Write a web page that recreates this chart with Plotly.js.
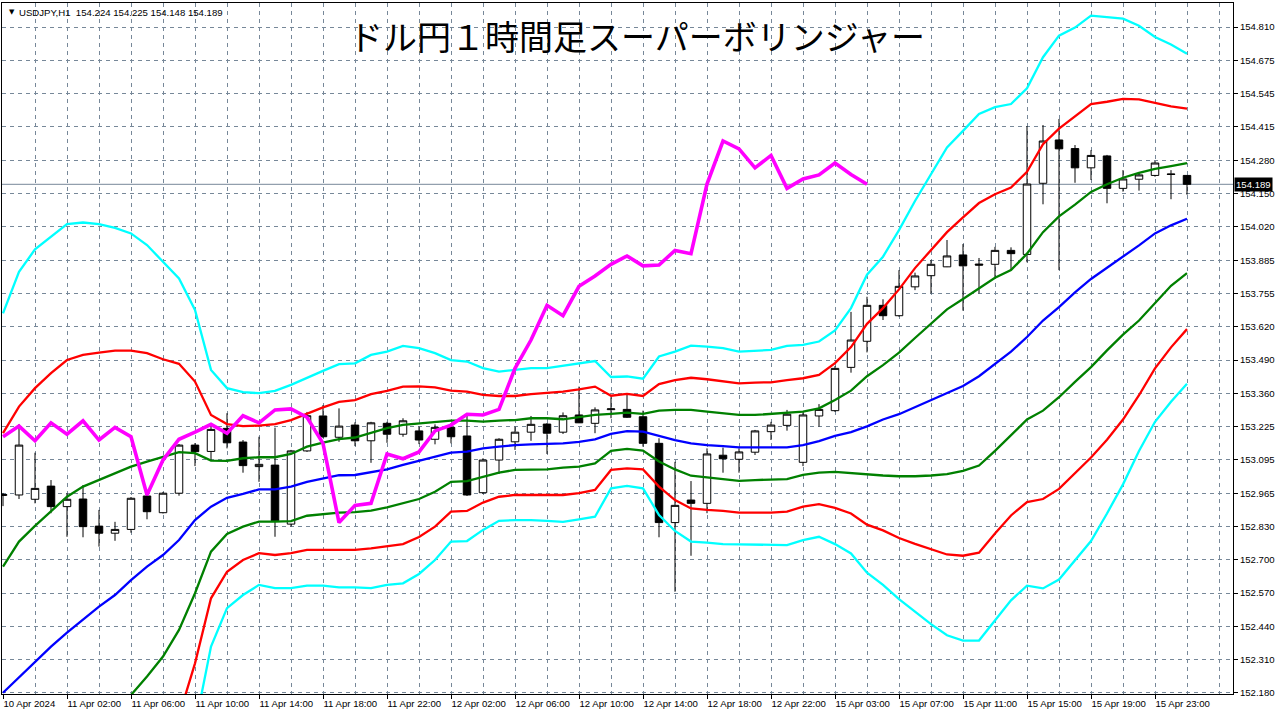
<!DOCTYPE html>
<html><head><meta charset="utf-8">
<script src="https://cdn.plot.ly/plotly-3.0.1.min.js"></script>
<style>html,body{margin:0;padding:0;background:#fff;}#chart{width:1278px;height:716px;}</style>
</head><body><div id="chart"></div>
<script>
// ---- data (USDJPY H1) ----
const openP=[152.960,152.962,152.945,152.997,152.916,152.946,152.839,152.811,152.826,152.958,
152.892,152.969,153.159,153.134,153.225,153.171,153.074,153.080,152.847,153.136,
153.274,153.190,153.238,153.176,153.245,153.202,153.215,153.182,153.229,153.195,
152.971,153.100,153.172,153.210,153.242,153.210,153.278,153.245,153.299,153.300,
153.271,153.166,152.853,152.942,152.929,153.119,153.103,153.131,153.212,153.237,
153.091,153.274,153.295,153.466,153.569,153.711,153.670,153.784,153.828,153.863,
153.910,153.874,153.873,153.928,153.912,154.193,154.364,154.330,154.254,154.301,
154.173,154.209,154.224,154.230,154.224];
const highP=[152.970,153.242,153.129,153.021,152.969,153.001,152.903,152.856,152.954,152.970,
152.974,153.163,153.167,153.245,153.285,153.179,153.192,153.228,153.140,153.290,
153.317,153.304,153.249,153.251,153.251,153.265,153.232,153.241,153.245,153.285,
153.107,153.186,153.232,153.274,153.246,153.288,153.390,153.308,153.348,153.357,
153.295,153.186,153.093,153.017,153.146,153.149,153.146,153.219,153.251,153.298,
153.288,153.321,153.471,153.685,153.745,153.735,153.850,153.840,153.890,153.969,
153.953,153.898,153.942,153.940,154.419,154.423,154.447,154.344,154.324,154.305,
154.245,154.237,154.281,154.245,154.225];
const lowP=[152.918,152.946,152.929,152.890,152.797,152.795,152.758,152.781,152.813,152.866,
152.889,152.959,153.076,153.100,153.146,153.050,153.014,152.797,152.837,153.132,
153.187,153.172,153.155,153.089,153.168,153.192,153.163,153.162,153.166,152.958,
152.966,153.045,153.140,153.176,153.124,153.203,153.246,153.206,153.265,153.266,
153.153,152.795,152.580,152.722,152.890,153.050,153.050,153.120,153.179,153.216,
153.076,153.232,153.290,153.445,153.525,153.653,153.666,153.771,153.758,153.862,
153.690,153.758,153.818,153.850,153.881,154.110,153.850,154.195,154.206,154.114,
154.160,154.164,154.219,154.130,154.148];
const closeP=[152.964,153.159,152.988,152.916,152.945,152.837,152.811,152.826,152.949,152.896,
152.969,153.159,153.133,153.221,153.168,153.078,153.083,152.860,153.136,153.275,
153.192,153.234,153.176,153.247,153.202,153.255,153.179,153.229,153.192,152.962,
153.100,153.182,153.210,153.241,153.206,153.275,153.247,153.298,153.302,153.269,
153.166,152.853,152.921,152.929,153.124,153.105,153.132,153.215,153.238,153.281,
153.278,153.300,153.462,153.574,153.711,153.670,153.786,153.827,153.873,153.906,
153.867,153.870,153.928,153.915,154.190,154.360,154.329,154.254,154.303,154.173,
154.210,154.226,154.273,154.228,154.189];

// lagging (chikou) span, magenta
const chikou=[153.192,153.234,153.176,153.247,153.202,153.255,153.179,153.229,153.192,152.962,
153.100,153.182,153.210,153.241,153.206,153.275,153.247,153.298,153.302,153.269,
153.166,152.853,152.921,152.929,153.124,153.105,153.132,153.215,153.238,153.281,
153.278,153.300,153.462,153.574,153.711,153.670,153.786,153.827,153.873,153.906,
153.867,153.870,153.928,153.915,154.190,154.360,154.329,154.254,154.303,154.173,
154.210,154.226,154.273,154.228,154.189];

const upper3=[153.679,153.843,153.932,153.982,154.032,154.038,154.032,154.017,153.995,153.949,
153.883,153.817,153.693,153.456,153.384,153.368,153.364,153.373,153.397,153.426,
153.452,153.479,153.482,153.515,153.528,153.551,153.542,153.522,153.495,153.489,
153.463,153.449,153.456,153.463,153.463,153.472,153.482,153.491,153.428,153.430,
153.421,153.509,153.528,153.552,153.548,153.542,153.528,153.532,153.535,153.551,
153.555,153.568,153.612,153.700,153.832,153.903,154.008,154.123,154.229,154.335,
154.400,154.467,154.494,154.506,154.568,154.691,154.776,154.808,154.855,154.850,
154.843,154.815,154.771,154.741,154.705];
const upper2=[153.206,153.311,153.384,153.443,153.495,153.515,153.524,153.532,153.532,153.522,
153.498,153.480,153.410,153.278,153.242,153.234,153.236,153.242,153.258,153.284,
153.308,153.330,153.337,153.360,153.373,153.390,153.391,153.387,153.374,153.370,
153.357,153.353,153.353,153.360,153.364,153.370,153.379,153.390,153.354,153.361,
153.353,153.400,153.416,153.425,153.419,153.410,153.403,153.406,153.407,153.416,
153.423,153.436,153.483,153.546,153.638,153.700,153.774,153.858,153.929,154.000,
154.058,154.115,154.150,154.176,154.238,154.347,154.409,154.458,154.506,154.515,
154.526,154.524,154.511,154.497,154.488];
const upper1=[152.679,152.778,152.840,152.896,152.955,152.995,153.021,153.050,153.074,153.094,
153.111,153.131,153.127,153.098,153.097,153.107,153.111,153.111,153.124,153.153,
153.169,153.183,153.189,153.208,153.226,153.239,153.245,153.252,153.256,153.256,
153.252,153.256,153.258,153.265,153.265,153.261,153.269,153.278,153.282,153.287,
153.282,153.295,153.298,153.298,153.291,153.285,153.278,153.278,153.282,153.285,
153.291,153.304,153.337,153.374,153.431,153.475,153.524,153.582,153.638,153.695,
153.736,153.779,153.820,153.850,153.915,154.000,154.062,154.109,154.159,154.189,
154.215,154.234,154.250,154.261,154.273];
const middle=[152.181,152.242,152.304,152.363,152.418,152.468,152.521,152.567,152.626,152.679,
152.725,152.784,152.863,152.916,152.951,152.966,152.984,152.984,152.995,153.014,
153.028,153.040,153.041,153.052,153.063,153.081,153.096,153.111,153.129,153.133,
153.146,153.153,153.159,153.162,153.163,153.166,153.172,153.182,153.203,153.214,
153.212,153.195,153.179,153.166,153.159,153.155,153.150,153.150,153.150,153.150,
153.159,153.175,153.195,153.210,153.233,153.260,153.281,153.309,153.339,153.365,
153.392,153.431,153.480,153.528,153.586,153.651,153.704,153.762,153.815,153.859,
153.903,153.948,153.995,154.027,154.053];
// lower bands start below the visible range; first bar index of each
const lower1Start=7;
const lower1=[152.089,152.172,152.245,152.324,152.429,152.574,152.738,152.808,152.837,152.857,
152.857,152.859,152.880,152.887,152.892,152.894,152.900,152.913,152.929,152.946,
152.975,153.014,153.017,153.034,153.050,153.061,153.063,153.063,153.070,153.074,
153.087,153.136,153.144,153.137,153.094,153.063,153.038,153.032,153.024,153.018,
153.021,153.024,153.025,153.041,153.050,153.053,153.048,153.042,153.039,153.036,
153.036,153.039,153.044,153.057,153.078,153.136,153.198,153.260,153.295,153.348,
153.409,153.467,153.533,153.595,153.651,153.721,153.788,153.838];
const lower2Start=11;
const lower2=[152.089,152.297,152.554,152.659,152.705,152.732,152.725,152.732,152.745,152.745,
152.745,152.745,152.751,152.760,152.768,152.796,152.837,152.896,152.899,152.932,
152.955,152.962,152.962,152.962,152.962,152.969,152.982,153.061,153.067,153.063,
152.995,152.942,152.909,152.903,152.899,152.892,152.892,152.892,152.896,152.916,
152.926,152.911,152.889,152.845,152.822,152.792,152.769,152.748,152.727,152.722,
152.734,152.810,152.881,152.934,152.946,152.986,153.048,153.110,153.180,153.260,
153.356,153.462,153.545,153.617];
const lower3Start=12;
const lower3=[152.046,152.363,152.515,152.567,152.607,152.594,152.594,152.604,152.604,152.597,
152.597,152.594,152.607,152.613,152.650,152.705,152.778,152.780,152.824,152.860,
152.863,152.863,152.860,152.856,152.866,152.876,152.988,152.998,152.988,152.883,
152.820,152.778,152.774,152.768,152.767,152.767,152.767,152.764,152.784,152.797,
152.768,152.731,152.655,152.607,152.551,152.501,152.452,152.408,152.387,152.387,
152.466,152.546,152.604,152.593,152.628,152.704,152.780,152.889,153.004,153.136,
153.251,153.330,153.401];

const xTickText=["10 Apr 2024","11 Apr 02:00","11 Apr 06:00","11 Apr 10:00","11 Apr 14:00",
"11 Apr 18:00","11 Apr 22:00","12 Apr 02:00","12 Apr 06:00","12 Apr 10:00","12 Apr 14:00",
"12 Apr 18:00","12 Apr 22:00","15 Apr 03:00","15 Apr 07:00","15 Apr 11:00","15 Apr 15:00",
"15 Apr 19:00","15 Apr 23:00"];
const yTickText=["152.180","152.310","152.440","152.570","152.700","152.830","152.965","153.095",
"153.225","153.360","153.490","153.620","153.755","153.885","154.020","154.150","154.280",
"154.415","154.545","154.675","154.810"];
const titleText="ドル円１時間足スーパーボリンジャー";
const symbolText="USDJPY,H1\u00a0\u00a0154.224 154.225 154.148 154.189";
const lastPrice=154.189;

// ---- build ----
const idx=(n,s)=>Array.from({length:n},(_,k)=>k+(s||0));
const nBars=closeP.length;
const xBars=idx(nBars);
const yMin=152.180, yStep=(154.810-152.180)/(yTickText.length-1);
const yTickVals=yTickText.map((t,k)=>yMin+k*yStep);
const xTickVals=xTickText.map((t,k)=>k*4);
const gridVals=idx(39).map(k=>k*2);

const lineTrace=(x,y,color,w)=>({type:'scatter',mode:'lines',x:x,y:y,
  line:{color:color,width:w,shape:'linear'},hoverinfo:'skip',showlegend:false,cliponaxis:true});

const traces=[
 {type:'candlestick',x:xBars,open:openP,high:highP,low:lowP,close:closeP,
  increasing:{line:{color:'#000',width:1},fillcolor:'#ffffff'},
  decreasing:{line:{color:'#000',width:1},fillcolor:'#000000'},
  whiskerwidth:0,hoverinfo:'skip',showlegend:false},
 lineTrace(xBars,upper3,'#00ffff',2.3),
 lineTrace(idx(lower3.length,lower3Start),lower3,'#00ffff',2.3),
 lineTrace(xBars,upper2,'#ff0000',2.3),
 lineTrace(idx(lower2.length,lower2Start),lower2,'#ff0000',2.3),
 lineTrace(xBars,upper1,'#008000',2.3),
 lineTrace(idx(lower1.length,lower1Start),lower1,'#008000',2.3),
 lineTrace(xBars,middle,'#0000ff',2.3),
 lineTrace(idx(chikou.length),chikou,'#ff00ff',3.6),
 {type:'scatter',mode:'markers',x:[0],y:[null],xaxis:'x2',yaxis:'y',hoverinfo:'skip',showlegend:false}
];

const xRange=[-0.0625,76.875];
const tickFont={family:'Liberation Sans, Arial, sans-serif',size:9.6,color:'#000'};
const gridC='#778899';
const layout={
 width:1278,height:716,
 margin:{l:2,r:45,t:3,b:22,pad:0},
 paper_bgcolor:'#ffffff',plot_bgcolor:'#ffffff',
 showlegend:false,hovermode:false,boxgap:0.33,
 title:{text:titleText,font:{family:'Noto Sans CJK JP',size:34,color:'#000'},
   x:0.4984,xanchor:'center',xref:'container',y:0.947,yanchor:'middle',yref:'container'},
 xaxis:{range:xRange,tickmode:'array',tickvals:gridVals,showticklabels:false,ticks:'',
   showgrid:true,gridcolor:gridC,gridwidth:1,griddash:'4px,4px',zeroline:false,
   showline:true,linecolor:'#000',linewidth:1,mirror:true,rangeslider:{visible:false},fixedrange:true},
 xaxis2:{overlaying:'x',range:xRange,side:'bottom',anchor:'y',tickmode:'array',tickvals:xTickVals,ticktext:xTickText,
   tickangle:0,automargin:false,
   ticks:'outside',ticklen:4,tickcolor:'#000',tickwidth:1,ticklabelposition:'outside right',
   showgrid:false,zeroline:false,showline:false,tickfont:tickFont,fixedrange:true},
 yaxis:{range:[152.176,154.905],side:'right',tickmode:'array',tickvals:yTickVals,ticktext:yTickText,
   ticks:'outside',ticklen:4,tickcolor:'#000',tickwidth:1,automargin:false,
   showgrid:true,gridcolor:gridC,gridwidth:1,griddash:'4px,4px',zeroline:false,
   showline:true,linecolor:'#000',linewidth:1,mirror:true,tickfont:tickFont,fixedrange:true},
 shapes:[{type:'line',xref:'paper',x0:0,x1:1,yref:'y',y0:lastPrice,y1:lastPrice,
   line:{color:gridC,width:1},layer:'below'}],
 annotations:[
  {xref:'paper',x:1,xanchor:'left',xshift:1,yref:'y',y:lastPrice,yanchor:'middle',
   text:String(lastPrice.toFixed(3)),showarrow:false,bgcolor:'#000',borderpad:1,
   font:{family:'Liberation Sans, Arial, sans-serif',size:9.6,color:'#fff'}},
  {xref:'paper',x:0,xanchor:'left',xshift:5,yref:'paper',y:1,yanchor:'top',yshift:-3,
   text:'\u25BC',showarrow:false,font:{family:'DejaVu Sans',size:7,color:'#000'}},
  {xref:'paper',x:0,xanchor:'left',xshift:15,yref:'paper',y:1,yanchor:'top',yshift:-2,
   text:symbolText,showarrow:false,font:{family:'Liberation Sans, Arial, sans-serif',size:9.6,color:'#000'}}
 ]
};
Plotly.newPlot('chart',traces,layout,{staticPlot:true,displayModeBar:false});
</script></body></html>
